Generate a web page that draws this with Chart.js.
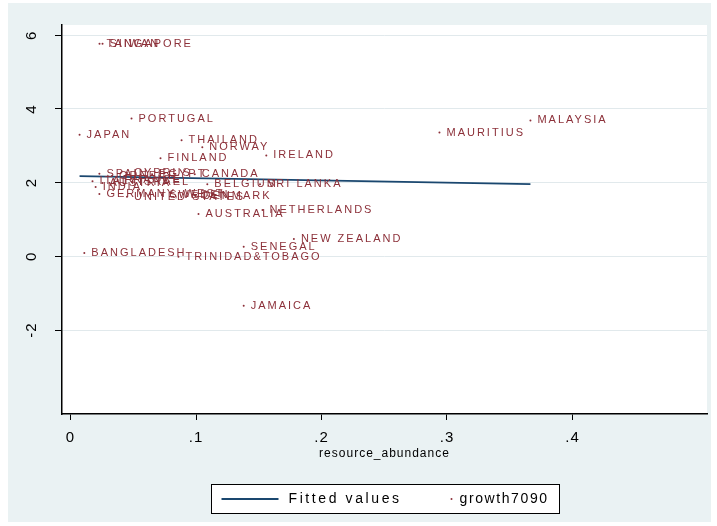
<!DOCTYPE html>
<html>
<head>
<meta charset="utf-8">
<script src="https://cdn.jsdelivr.net/npm/chart.js@4.4.0/dist/chart.umd.min.js"></script>
<style>
  html, body { margin: 0; padding: 0; background: #fff; overflow: hidden; }
  canvas { display: block; }
</style>
</head>
<body>
<canvas id="chart" width="717" height="526"></canvas>
<script>
// ==== Data ====
const countries = [
  "TAIWAN", "SINGAPORE", "PORTUGAL", "JAPAN", "THAILAND", "NORWAY",
  "FINLAND", "IRELAND", "MAURITIUS", "MALAYSIA", "BANGLADESH",
  "TRINIDAD&TOBAGO", "SENEGAL", "NEW ZEALAND", "JAMAICA", "NETHERLANDS",
  "AUSTRALIA", "DENMARK", "SRI LANKA", "BELGIUM", "CANADA", "EGYPT",
  "SPAIN", "GREECE", "CYPRUS", "ITALY", "AUSTRIA", "FRANCE", "ISRAEL",
  "INDIA", "GERMANY, WEST", "SWEDEN", "UNITED STATES"
];
const resourceAbundance = [
  0.0231, 0.0255, 0.0486, 0.0072, 0.0885, 0.105,
  0.0717, 0.156, 0.294, 0.3665, 0.011,
  0.086, 0.138, 0.178, 0.138, 0.153,
  0.102, 0.0996, 0.151, 0.109, 0.099, 0.065,
  0.023, 0.033, 0.045, 0.0175, 0.0255, 0.0375, 0.049,
  0.020, 0.023, 0.073, 0.045
];
const growth7090 = [
  5.77, 5.77, 3.74, 3.30, 3.15, 2.96,
  2.66, 2.74, 3.36, 3.69, 0.09,
  -0.01, 0.26, 0.47, -1.34, 1.26,
  1.15, 1.64, 1.96, 1.96, 2.23, 2.23,
  2.24, 2.18, 2.26, 2.04, 1.99, 2.07, 2.01,
  1.88, 1.69, 1.66, 1.62
];

// fitted line over the data range
const fitX = [0.0072, 0.3665];
const fitY = [2.18, 1.96];

const xTicks = [0, 0.1, 0.2, 0.3, 0.4];
const yTicks = [-2, 0, 2, 4, 6];
const xTitle = "resource_abundance";
const legendNames = ["Fitted values", "growth7090"];

// ==== s2color look ====
const NAVY = "#1a476f";
const MAROON = "#8c3039";
const REGION = "#eaf2f3";
const GRID = "#e1e9ec";
const FONT = "'Liberation Sans', Arial, sans-serif";

// background: graph region + white plot region
const backdrop = {
  id: "backdrop",
  beforeDraw(chart) {
    const { ctx, chartArea: a, width, height } = chart;
    ctx.save();
    ctx.fillStyle = "#fff";
    ctx.fillRect(0, 0, width, height);
    ctx.fillStyle = REGION;
    ctx.fillRect(8, 3, width - 14, height - 7);
    ctx.fillStyle = "#fff";
    ctx.fillRect(a.left, a.top, a.right - a.left, a.bottom - a.top);
    ctx.restore();
    ctx.letterSpacing = "1px"; // text in the original is drawn wide
  }
};

// country names to the right of each marker
const pointLabels = {
  id: "pointLabels",
  afterDatasetsDraw(chart) {
    const meta = chart.getDatasetMeta(1);
    const ctx = chart.ctx;
    ctx.save();
    ctx.font = "11px " + FONT;
    ctx.letterSpacing = "2px";
    ctx.fillStyle = MAROON;
    ctx.textBaseline = "middle";
    ctx.textAlign = "left";
    meta.data.forEach((pt, i) => {
      ctx.fillText(countries[i], pt.x + 7, pt.y);
    });
    ctx.restore();
  }
};

// boxed legend under the axis title
const stataLegend = {
  id: "stataLegend",
  afterDraw(chart) {
    const { ctx, chartArea: a } = chart;
    const w = 348, h = 29;
    const left = Math.round((a.left + a.right) / 2 - w / 2) + 0.5;
    const top = Math.round(a.bottom) + 70.5;
    const mid = top + h / 2;
    const fit = chart.data.datasets[0];
    const sc = chart.data.datasets[1];

    ctx.save();
    ctx.fillStyle = "#fff";
    ctx.fillRect(left, top, w, h);
    ctx.strokeStyle = "#000";
    ctx.lineWidth = 1;
    ctx.strokeRect(left, top, w, h);

    ctx.strokeStyle = fit.borderColor;
    ctx.lineWidth = fit.borderWidth;
    ctx.beginPath();
    ctx.moveTo(left + 10, mid);
    ctx.lineTo(left + 67, mid);
    ctx.stroke();

    ctx.font = "14px " + FONT;
    ctx.textBaseline = "middle";
    ctx.textAlign = "left";
    ctx.fillStyle = "#000";
    ctx.letterSpacing = "2.6px";
    ctx.fillText(legendNames[0], left + 77, mid);

    ctx.fillStyle = sc.pointBackgroundColor;
    ctx.beginPath();
    ctx.arc(left + 240, mid, 1, 0, Math.PI * 2);
    ctx.fill();

    ctx.fillStyle = "#000";
    ctx.letterSpacing = "1.6px";
    ctx.fillText(legendNames[1], left + 248, mid);
    ctx.restore();
  }
};

new Chart(document.getElementById("chart"), {
  type: "scatter",
  data: {
    datasets: [
      {
        type: "line",
        label: legendNames[0],
        data: fitX.map((x, i) => ({ x, y: fitY[i] })),
        borderColor: NAVY,
        borderWidth: 1.8,
        pointRadius: 0,
        fill: false,
        tension: 0
      },
      {
        type: "scatter",
        label: legendNames[1],
        data: resourceAbundance.map((x, i) => ({ x, y: growth7090[i] })),
        pointRadius: 1,
        pointBackgroundColor: MAROON,
        pointBorderWidth: 0,
        borderColor: MAROON
      }
    ]
  },
  options: {
    responsive: false,
    animation: false,
    devicePixelRatio: 1,
    layout: { padding: { left: 8, right: 10, top: 23, bottom: 64 } },
    plugins: { legend: { display: false }, tooltip: { enabled: false } },
    scales: {
      x: {
        type: "linear",
        min: -0.0068,
        max: 0.5072,
        afterBuildTicks: s => { s.ticks = xTicks.map(v => ({ value: v })); },
        afterFit: s => { s.height = 48; },
        ticks: {
          callback: v => (v === 0 ? "0" : String(v).replace(/^0/, "")),
          color: "#000",
          font: { family: FONT, size: 15 },
          padding: 9,
          maxRotation: 0,
          autoSkip: false
        },
        grid: { drawOnChartArea: false, tickColor: "#000", tickLength: 6, tickWidth: 1 },
        border: { color: "#000", width: 1.5 },
        title: { display: true, text: xTitle, color: "#000", font: { family: FONT, size: 12 }, padding: { top: 0, bottom: 1 } }
      },
      y: {
        type: "linear",
        min: -4.28,
        max: 6.28,
        afterBuildTicks: s => { s.ticks = yTicks.map(v => ({ value: v })); },
        afterFit: s => { s.width = 54; },
        ticks: {
          color: "#000",
          font: { family: FONT, size: 15 },
          padding: 16,
          minRotation: 90,
          maxRotation: 90,
          crossAlign: "center",
          autoSkip: false
        },
        grid: { color: GRID, lineWidth: 1, tickColor: "#000", tickLength: 7, tickWidth: 1 },
        border: { color: "#000", width: 1.5 }
      }
    }
  },
  plugins: [backdrop, pointLabels, stataLegend]
});
</script>
</body>
</html>
